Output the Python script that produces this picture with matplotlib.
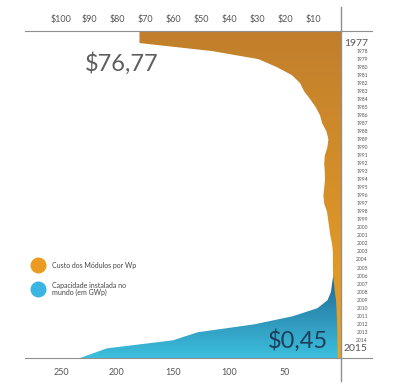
import numpy as np
import matplotlib
matplotlib.use('Agg')
import matplotlib.pyplot as plt
from matplotlib.colors import LinearSegmentedColormap

plt.rcParams['font.family'] = ['Lato', 'DejaVu Sans']

years = list(range(1977, 2016))
# module price, US$ per Wp (read from the orange shape)
price = [72, 46, 29.5, 22.9, 17.5, 14.6, 13.2, 11.0, 9.0, 7.5,
         6.7, 5.2, 4.5, 4.9, 5.8, 6.0, 5.8, 5.7, 6.0, 6.3,
         6.0, 5.0, 4.6, 4.2, 3.8, 3.2, 2.9, 2.9, 2.9, 2.8,
         2.5, 2.2, 1.8, 1.6, 1.5, 1.4, 1.3, 1.3, 1.2]
# installed capacity in the world, GWp (read from the blue shape)
capacity = [0, 0, 0, 0, 0, 0, 0, 0, 0.1, 0.2,
            0.3, 0.4, 0.5, 0.6, 0.7, 0.8, 0.9, 1.0, 1.1, 1.3,
            1.5, 1.7, 2.0, 2.5, 3, 3.5, 4, 5, 6, 7,
            8, 9, 12, 21, 43, 77, 128, 150, 209]
# where the blue shape meets the bottom line
capacity_baseline = 233
price_ticks = [100, 90, 80, 70, 60, 50, 40, 30, 20, 10]
gw_ticks = [250, 200, 150, 100, 50]
price_first_label = '$76,77'
price_last_label = '$0,45'
legend_labels = ['Custo dos Módulos por Wp', 'Capacidade instalada no\nmundo (em GWp)']

ORANGE_TOP, ORANGE_BOT = '#c17f2c', '#eca225'
BLUE_TOP, BLUE_BOT = '#1f5e8c', '#3cc0de'
GRID = '#8f8f8f'
TXT = '#555555'

Y_TOP, Y_BOT = 1975.5, 2016.2


def gradient_fill(ax, yv, xv, c_top, c_bot, y0, y1):
    poly = ax.fill_betweenx(yv, 0, xv, color='none', lw=0)
    cmap = LinearSegmentedColormap.from_list('g', [c_top, c_bot])
    xl = ax.get_xlim()
    im = ax.imshow(np.linspace(0, 1, 256).reshape(-1, 1), cmap=cmap,
                   aspect='auto', origin='upper',
                   extent=[xl[0], xl[1], y1, y0], zorder=2)
    im.set_clip_path(poly.get_paths()[0], transform=ax.transData)
    ax.set_xlim(xl)
    ax.set_ylim(Y_BOT, Y_TOP)


fig = plt.figure(figsize=(4.08, 3.9), dpi=100)
ax = fig.add_axes([25 / 408, 32 / 390, 347 / 408, 327 / 390])
ax.set_xlim(282.1, -27.7)
ax.set_ylim(Y_BOT, Y_TOP)
ax2 = ax.twiny()
ax2.set_xlim(112.9, -11.07)
ax2.set_ylim(Y_BOT, Y_TOP)

# blue area (capacity), down to the bottom line
yb = years + [Y_BOT]
xb = capacity + [capacity_baseline]
first = years[int(np.argmax(np.array(capacity) > 5))]
gradient_fill(ax, yb, xb, BLUE_TOP, BLUE_BOT, first, Y_BOT)

# orange area (price), held to the top and bottom lines
yo = [Y_TOP] + years + [Y_BOT]
xo = [price[0]] + price + [price[-1]]
gradient_fill(ax2, yo, xo, ORANGE_TOP, ORANGE_BOT, Y_TOP, Y_BOT)

for a in (ax, ax2):
    for s in ('left', 'right'):
        a.spines[s].set_visible(False)
    a.tick_params(length=0, colors=TXT, labelsize=6.5)
    a.set_yticks([])
ax.spines['top'].set_visible(False)
ax2.spines['bottom'].set_visible(False)
ax.spines['bottom'].set_color(GRID)
ax2.spines['top'].set_color(GRID)
ax.tick_params(axis='x', pad=7.5)
ax2.tick_params(axis='x', pad=5)

ax.set_xticks(gw_ticks)
ax.set_xticklabels([str(v) for v in gw_ticks])
ax2.set_xticks(price_ticks)
ax2.set_xticklabels([f'${v}' for v in price_ticks])

ax2.axvline(0, ymin=-0.07, ymax=1.073, color=GRID, lw=1, clip_on=False, zorder=5)

# year labels on the right
tr = ax2.get_yaxis_transform()
for i, yr in enumerate(years):
    big = i == 0 or i == len(years) - 1
    ax2.text(0.988, yr, str(yr), transform=tr, ha='right', va='center',
             fontsize=7.5 if big else 3.6, color=TXT)

ax2.text(0.173, 0.902, price_first_label, transform=ax2.transAxes,
         fontsize=17, color='#5e5e5e', fontweight='normal', va='center')
ax2.text(0.873, 0.052, price_last_label, transform=ax2.transAxes,
         fontsize=17, color='#1b3e5a', fontweight='normal', va='center', ha='right',
         zorder=6)

# legend
for yy, col, lab in [(0.284, '#eb9a22', legend_labels[0]),
                     (0.212, '#3ab5e2', legend_labels[1])]:
    ax2.plot([0.037], [yy], 'o', transform=ax2.transAxes, ms=11.5,
             color=col, mec='none', clip_on=False)
    ax2.text(0.078, yy, lab, transform=ax2.transAxes, fontsize=5,
             color='#444444', va='center', linespacing=1.0)

fig.savefig('out.png', dpi=100)
